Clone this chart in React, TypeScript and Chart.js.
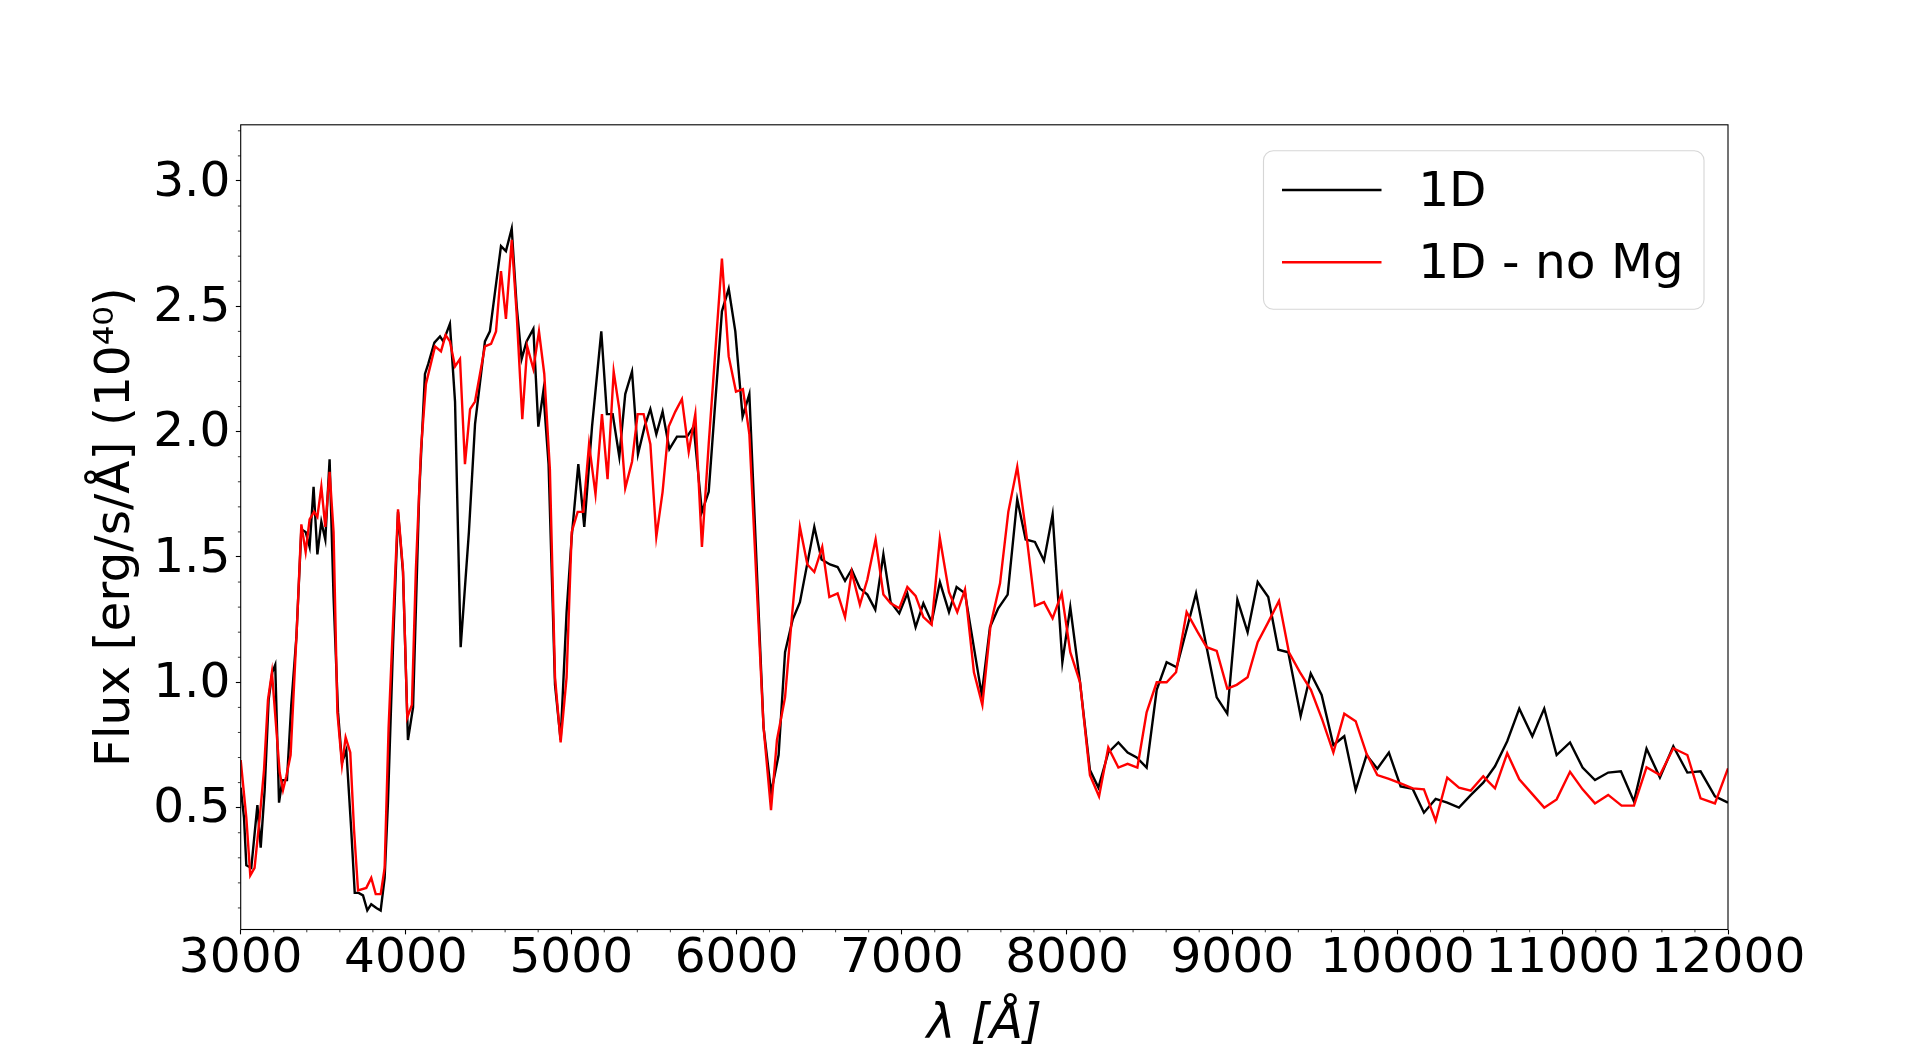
import React, { useEffect, useRef } from "react";
import { Chart, registerables } from "chart.js";

Chart.register(...registerables);

// ---- data ----
const wavelength1D = [
  3000, 3020, 3034, 3064, 3101, 3121, 3145, 3169, 3191, 3209, 3232, 3252, 3280, 3306, 3337, 3367, 3393, 3417, 3441, 3464,
  3488, 3512, 3538, 3562, 3589, 3613, 3639, 3669, 3690, 3714, 3740, 3766, 3790, 3821, 3847, 3871, 3891, 3922, 3952, 3982,
  4012, 4043, 4080, 4115, 4135, 4172, 4206, 4226, 4266, 4297, 4331, 4381, 4418, 4478, 4508, 4575, 4605, 4640, 4670, 4700,
  4730, 4771, 4801, 4831, 4863, 4902, 4936, 4972, 5003, 5043, 5079, 5126, 5182, 5216, 5251, 5291, 5327, 5368, 5404, 5444,
  5479, 5515, 5553, 5594, 5640, 5701, 5741, 5791, 5832, 5912, 5953, 5993, 6037, 6078, 6164, 6210, 6255, 6294, 6340, 6384,
  6471, 6515, 6566, 6612, 6657, 6697, 6747, 6792, 6840, 6889, 6933, 6985, 7034, 7084, 7131, 7181, 7231, 7286, 7332, 7383,
  7484, 7534, 7584, 7641, 7699, 7750, 7806, 7861, 7913, 7972, 8020, 8079, 8139, 8190, 8250, 8311, 8367, 8422, 8482, 8543,
  8603, 8664, 8781, 8845, 8906, 8970, 9031, 9093, 9154, 9218, 9279, 9339, 9414, 9475, 9541, 9612, 9678, 9747, 9813, 9878,
  9948, 10019, 10092, 10160, 10231, 10301, 10372, 10443, 10519, 10590, 10664, 10737, 10816, 10888, 10963, 11044, 11120,
  11195, 11275, 11352, 11431, 11507, 11588, 11669, 11754, 11834, 11921, 12000,
];
const flux1D = [
  0.58, 0.46, 0.27, 0.26, 0.51, 0.34, 0.57, 0.93, 1.04, 1.07, 0.52, 0.61, 0.61, 0.91, 1.18, 1.61, 1.6, 1.54, 1.78, 1.51,
  1.64, 1.57, 1.89, 1.34, 0.88, 0.68, 0.73, 0.41, 0.16, 0.16, 0.15, 0.09, 0.115, 0.1, 0.09, 0.22, 0.52, 1.15, 1.68, 1.44,
  0.77, 0.9, 1.75, 2.23, 2.27, 2.355, 2.38, 2.36, 2.43, 2.12, 1.14, 1.6, 2.03, 2.36, 2.4, 2.74, 2.72, 2.81, 2.5, 2.29,
  2.36, 2.41, 2.02, 2.16, 1.87, 0.99, 0.77, 1.28, 1.58, 1.87, 1.62, 2.02, 2.4, 2.07, 2.07, 1.9, 2.15, 2.24, 1.91, 2.02,
  2.09, 1.99, 2.08, 1.93, 1.98, 1.98, 2.02, 1.68, 1.76, 2.48, 2.57, 2.4, 2.06, 2.15, 0.82, 0.56, 0.71, 1.12, 1.25, 1.32,
  1.62, 1.49, 1.47, 1.46, 1.405, 1.45, 1.375, 1.35, 1.29, 1.51, 1.32, 1.275, 1.355, 1.22, 1.315, 1.24, 1.4, 1.28, 1.38, 1.355,
  0.95, 1.22, 1.295, 1.35, 1.73, 1.57, 1.56, 1.485, 1.67, 1.08, 1.3, 1.0, 0.65, 0.58, 0.72, 0.76, 0.72, 0.7, 0.66, 0.97,
  1.08, 1.06, 1.355, 1.14, 0.94, 0.875, 1.33, 1.2, 1.4, 1.34, 1.13, 1.12, 0.865, 1.035, 0.95, 0.75, 0.785, 0.57, 0.71, 0.655,
  0.72, 0.585, 0.575, 0.48, 0.535, 0.52, 0.5, 0.55, 0.6, 0.665, 0.765, 0.895, 0.785, 0.895, 0.71, 0.76, 0.66,
  0.61, 0.64, 0.645, 0.525, 0.735, 0.62, 0.745, 0.64, 0.645, 0.545, 0.52,
];

const wavelengthNoMg = [
  3000, 3034, 3058, 3084, 3115, 3141, 3165, 3189, 3236, 3256, 3276, 3302, 3340, 3367, 3393, 3417, 3444, 3464, 3488, 3512,
  3538, 3562, 3585, 3613, 3635, 3663, 3686, 3710, 3760, 3790, 3817, 3847, 3871, 3895, 3922, 3952, 3982, 4008, 4036, 4060,
  4091, 4121, 4176, 4212, 4240, 4266, 4297, 4327, 4357, 4388, 4418, 4478, 4515, 4545, 4575, 4605, 4640, 4670, 4704, 4734,
  4771, 4805, 4837, 4871, 4902, 4936, 4972, 5003, 5039, 5073, 5108, 5147, 5186, 5220, 5257, 5291, 5327, 5368, 5402, 5438,
  5479, 5515, 5553, 5590, 5630, 5670, 5711, 5751, 5791, 5832, 5912, 5953, 5997, 6039, 6078, 6164, 6209, 6245, 6294, 6334,
  6384, 6429, 6471, 6519, 6562, 6612, 6657, 6697, 6747, 6792, 6842, 6889, 6933, 6985, 7034, 7084, 7131, 7181, 7231, 7286,
  7336, 7383, 7437, 7488, 7538, 7595, 7645, 7699, 7756, 7806, 7861, 7913, 7968, 8020, 8079, 8139, 8194, 8250, 8311, 8367,
  8426, 8482, 8543, 8603, 8660, 8724, 8791, 8845, 8906, 8970, 9027, 9093, 9154, 9218, 9283, 9343, 9410, 9476, 9545, 9612,
  9678, 9747, 9813, 9878, 9948, 10019, 10092, 10160, 10231, 10301, 10372, 10443, 10519, 10590, 10664, 10737, 10812, 10888,
  10963, 11044, 11120, 11195, 11275, 11356, 11431, 11507, 11588, 11669, 11754, 11834, 11921, 12000,
];
const fluxNoMg = [
  0.69, 0.46, 0.23, 0.26, 0.46, 0.65, 0.93, 1.04, 0.64, 0.57, 0.625, 0.71, 1.22, 1.63, 1.52, 1.65, 1.68, 1.66, 1.78, 1.62,
  1.84, 1.6, 0.88, 0.67, 0.78, 0.72, 0.41, 0.17, 0.18, 0.22, 0.155, 0.155, 0.26, 0.82, 1.24, 1.69, 1.45, 0.86, 0.91, 1.45,
  1.93, 2.19, 2.34, 2.32, 2.385, 2.36, 2.26, 2.29, 1.87, 2.09, 2.12, 2.34, 2.35, 2.4, 2.64, 2.45, 2.765, 2.47, 2.05, 2.34,
  2.25, 2.4, 2.23, 1.85, 1.02, 0.76, 1.02, 1.6, 1.68, 1.68, 1.95, 1.75, 2.07, 1.81, 2.24, 2.09, 1.775, 1.88, 2.07, 2.07,
  1.95, 1.58, 1.76, 2.02, 2.08, 2.13, 1.92, 2.07, 1.54, 1.95, 2.69, 2.3, 2.16, 2.17, 1.99, 0.82, 0.49, 0.77, 0.94, 1.25,
  1.62, 1.47, 1.44, 1.54, 1.34, 1.355, 1.26, 1.44, 1.31, 1.41, 1.57, 1.35, 1.315, 1.295, 1.38, 1.345, 1.26, 1.23, 1.575, 1.36,
  1.28, 1.37, 1.04, 0.91, 1.23, 1.395, 1.68, 1.86, 1.58, 1.305, 1.32, 1.255, 1.355, 1.12, 1.0, 0.63, 0.545, 0.74, 0.66, 0.675,
  0.66, 0.88, 1.0, 1.0, 1.04, 1.28, 1.2, 1.14, 1.125, 0.975, 0.99, 1.02, 1.16, 1.24, 1.325, 1.12, 1.04, 0.97, 0.85, 0.72,
  0.875, 0.845, 0.715, 0.63, 0.615, 0.597, 0.577, 0.573, 0.448, 0.62, 0.58, 0.568, 0.625, 0.577, 0.717, 0.613, 0.557, 0.5,
  0.533, 0.643, 0.573, 0.517, 0.551, 0.508, 0.508, 0.661, 0.63, 0.737, 0.71, 0.537, 0.517, 0.657,
];

const seriesLabels = ["1D", "1D - no Mg"];
const seriesColors = ["#000000", "#ff0000"];
const xMajorTicks = [3000, 4000, 5000, 6000, 7000, 8000, 9000, 10000, 11000, 12000];
const yMajorTicks = [0.5, 1.0, 1.5, 2.0, 2.5, 3.0];
const xRange = [3000, 12000];
const yRange = [0.014, 3.224];
const xTitle = "λ [Å]";
const yTitle = "Flux [erg/s/Å] (10⁴⁰)";

const FONT = "DejaVu Sans";
const FS = 48.6;
const LW = 2.4;

const xMinorTicks: number[] = [];
for (let v = xRange[0]; v <= xRange[1]; v += 200) if (v % 1000 !== 0) xMinorTicks.push(v);
const yMinorTicks: number[] = [];
for (let i = 1; i <= 32; i++) if (i % 5 !== 0) yMinorTicks.push(i / 10);

const toPoints = (xs: number[], ys: number[]) => xs.map((x, i) => ({ x, y: ys[i] }));

const decorPlugin = {
  id: "decor",
  afterDatasetsDraw(chart: any) {
    const { ctx, chartArea: a, scales } = chart;
    const xs = scales.x;
    const ys = scales.y;
    ctx.save();
    // minor ticks
    ctx.strokeStyle = "#000";
    ctx.lineWidth = 0.8;
    ctx.beginPath();
    for (const v of xMinorTicks) {
      const px = xs.getPixelForValue(v);
      ctx.moveTo(px, a.bottom);
      ctx.lineTo(px, a.bottom + 2.8);
    }
    for (const v of yMinorTicks) {
      const py = ys.getPixelForValue(v);
      ctx.moveTo(a.left, py);
      ctx.lineTo(a.left - 2.8, py);
    }
    ctx.stroke();
    // frame
    ctx.lineWidth = 1.1;
    ctx.strokeRect(a.left, a.top, a.right - a.left, a.bottom - a.top);

    // legend
    const bx1 = a.right - 24;
    const bx0 = bx1 - 440.5;
    const by0 = a.top + 26;
    const by1 = a.top + 184.5;
    const r = 9.7;
    ctx.beginPath();
    ctx.moveTo(bx0 + r, by0);
    ctx.lineTo(bx1 - r, by0);
    ctx.arcTo(bx1, by0, bx1, by0 + r, r);
    ctx.lineTo(bx1, by1 - r);
    ctx.arcTo(bx1, by1, bx1 - r, by1, r);
    ctx.lineTo(bx0 + r, by1);
    ctx.arcTo(bx0, by1, bx0, by1 - r, r);
    ctx.lineTo(bx0, by0 + r);
    ctx.arcTo(bx0, by0, bx0 + r, by0, r);
    ctx.closePath();
    ctx.fillStyle = "rgba(255,255,255,0.8)";
    ctx.fill();
    ctx.strokeStyle = "rgba(204,204,204,0.8)";
    ctx.lineWidth = 1.1;
    ctx.stroke();

    const rowLineY = [a.top + 65.2, a.top + 137.5];
    const rowBase = [a.top + 81.2, a.top + 153.5];
    ctx.font = `${FS}px "${FONT}"`;
    ctx.textAlign = "left";
    ctx.textBaseline = "alphabetic";
    chart.data.datasets.forEach((ds: any, i: number) => {
      ctx.strokeStyle = ds.borderColor;
      ctx.lineWidth = LW;
      ctx.beginPath();
      ctx.moveTo(bx0 + 18.5, rowLineY[i]);
      ctx.lineTo(bx0 + 118, rowLineY[i]);
      ctx.stroke();
      ctx.fillStyle = "#000";
      ctx.fillText(ds.label, bx0 + 154.7, rowBase[i]);
    });
    ctx.restore();
  },
};

export default function App() {
  const canvasRef = useRef<HTMLCanvasElement | null>(null);

  useEffect(() => {
    const canvas = canvasRef.current;
    if (!canvas) return;
    Chart.defaults.color = "#000";
    Chart.defaults.font.family = FONT;
    const chart = new Chart(canvas, {
      type: "line",
      data: {
        datasets: [
          {
            label: seriesLabels[0],
            data: toPoints(wavelength1D, flux1D),
            borderColor: seriesColors[0],
            backgroundColor: seriesColors[0],
            borderWidth: LW,
            pointRadius: 0,
            tension: 0,
            fill: false,
            order: 2,
          },
          {
            label: seriesLabels[1],
            data: toPoints(wavelengthNoMg, fluxNoMg),
            borderColor: seriesColors[1],
            backgroundColor: seriesColors[1],
            borderWidth: LW,
            pointRadius: 0,
            tension: 0,
            fill: false,
            order: 1,
          },
        ],
      },
      options: {
        responsive: false,
        animation: false,
        devicePixelRatio: 1,
        events: [],
        layout: { padding: { left: 0, top: 124.8, right: 1920 - 1728, bottom: 0 } },
        plugins: { legend: { display: false }, tooltip: { enabled: false }, title: { display: false } },
        scales: {
          x: {
            type: "linear",
            min: xRange[0],
            max: xRange[1],
            afterBuildTicks: (s: any) => {
              s.ticks = xMajorTicks.map((v) => ({ value: v }));
            },
            afterFit: (s: any) => {
              s.height = 114.5;
            },
            grid: {
              display: true,
              drawOnChartArea: false,
              drawTicks: true,
              tickLength: 4.86,
              tickWidth: 1.1,
              tickColor: "#000",
            },
            border: { display: false },
            ticks: {
              autoSkip: false,
              maxRotation: 0,
              minRotation: 0,
              padding: -3.8,
              color: "#000",
              font: { family: FONT, size: FS, lineHeight: 1.2 },
              callback: (v: any) => String(v),
            },
            title: {
              display: true,
              text: xTitle,
              color: "#000",
              font: { family: FONT, size: FS, lineHeight: 1, style: "italic" },
              padding: { top: 0, bottom: -6 },
            },
          },
          y: {
            type: "linear",
            min: yRange[0],
            max: yRange[1],
            afterBuildTicks: (s: any) => {
              s.ticks = yMajorTicks.map((v) => ({ value: v }));
            },
            afterFit: (s: any) => {
              s.width = 240.7;
            },
            grid: {
              display: true,
              drawOnChartArea: false,
              drawTicks: true,
              tickLength: 4.86,
              tickWidth: 1.1,
              tickColor: "#000",
            },
            border: { display: false },
            ticks: {
              padding: 5.4,
              labelOffset: 2,
              color: "#000",
              font: { family: FONT, size: FS, lineHeight: 1.2 },
              callback: (v: any) => Number(v).toFixed(1),
            },
            title: {
              display: true,
              text: yTitle,
              color: "#000",
              font: { family: FONT, size: FS, lineHeight: 1 },
              padding: { top: 92.2, bottom: 0 },
            },
          },
        },
      },
      plugins: [decorPlugin],
    });
    return () => chart.destroy();
  }, []);

  return (
    <div style={{ position: "absolute", left: 0, top: 0, width: 1920, height: 1044, background: "#fff" }}>
      <canvas ref={canvasRef} width={1920} height={1044} style={{ display: "block", width: 1920, height: 1044 }} />
    </div>
  );
}
